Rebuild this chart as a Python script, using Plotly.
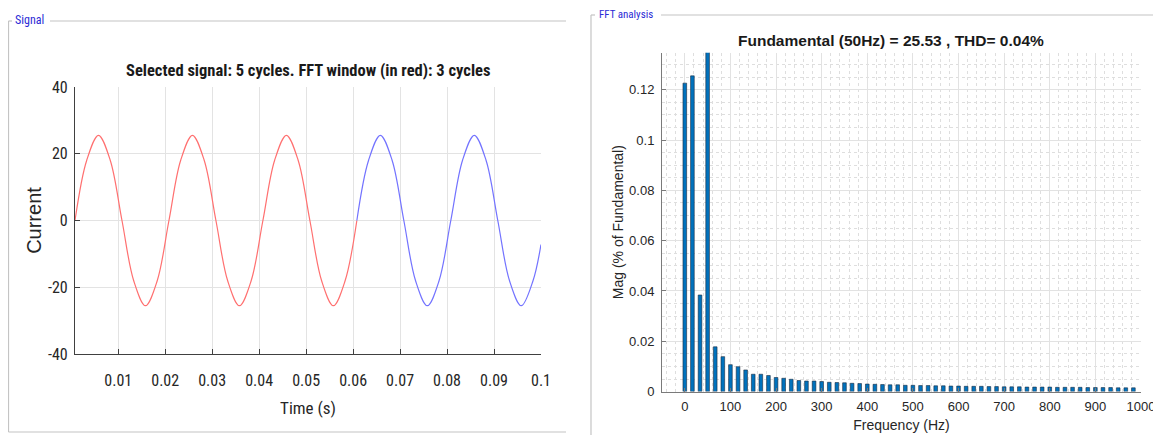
import plotly.graph_objects as go

# the page places the figure with an 8px body margin, so the figure is sized
# to fill the rest of the 1161x435 window
OFF = 8
W, H = 1161 - OFF, 435 - OFF

# ---------------- data ----------------
# Signal: current samples (8 samples per 50 Hz cycle)
time_s = [0.0008, 0.0033, 0.0058, 0.0083, 0.0108, 0.0133, 0.0158, 0.0183,
          0.0208, 0.0233, 0.0258, 0.0283, 0.0308, 0.0333, 0.0358, 0.0383,
          0.0408, 0.0433, 0.0458, 0.0483, 0.0508, 0.0533, 0.0558, 0.0583,
          0.0608, 0.0633, 0.0658, 0.0683, 0.0708, 0.0733, 0.0758, 0.0783,
          0.0808, 0.0833, 0.0858, 0.0883, 0.0908, 0.0933, 0.0958, 0.0983,
          0.1000]
current = [0.0, 18.05, 25.53, 18.05, 0.0, -18.05, -25.53, -18.05,
           0.0, 18.05, 25.53, 18.05, 0.0, -18.05, -25.53, -18.05,
           0.0, 18.05, 25.53, 18.05, 0.0, -18.05, -25.53, -18.05,
           0.0, 18.05, 25.53, 18.05, 0.0, -18.05, -25.53, -18.05,
           0.0, 18.05, 25.53, 18.05, 0.0, -18.05, -25.53, -18.05,
           -7.2]
fft_window_end_index = 24  # first 3 cycles (red)

# FFT: frequency bins (Hz) and magnitude (% of fundamental)
freq_hz = [0, 16.67, 33.33, 50, 66.67, 83.33, 100, 116.67, 133.33, 150,
           166.67, 183.33, 200, 216.67, 233.33, 250, 266.67, 283.33, 300, 316.67,
           333.33, 350, 366.67, 383.33, 400, 416.67, 433.33, 450, 466.67, 483.33,
           500, 516.67, 533.33, 550, 566.67, 583.33, 600, 616.67, 633.33, 650,
           666.67, 683.33, 700, 716.67, 733.33, 750, 766.67, 783.33, 800, 816.67,
           833.33, 850, 866.67, 883.33, 900, 916.67, 933.33, 950, 966.67, 983.33]
mag_pct = [0.1226, 0.1255, 0.0384, 100.0, 0.0178, 0.0139, 0.0107, 0.0099, 0.0086, 0.0069,
           0.0069, 0.0064, 0.0056, 0.0053, 0.0049, 0.0044, 0.0042, 0.0042, 0.0040, 0.0037,
           0.0036, 0.0035, 0.0033, 0.0032, 0.0030, 0.0029, 0.0028, 0.0027, 0.0027, 0.0025,
           0.0025, 0.0024, 0.0024, 0.0023, 0.0023, 0.0022, 0.0022, 0.0021, 0.0021, 0.0021,
           0.0020, 0.0020, 0.0019, 0.0019, 0.0019, 0.0018, 0.0018, 0.0018, 0.0018, 0.0017,
           0.0017, 0.0017, 0.0017, 0.0016, 0.0016, 0.0016, 0.0016, 0.0015, 0.0015, 0.0015]

sig_xticks = [0.01, 0.02, 0.03, 0.04, 0.05, 0.06, 0.07, 0.08, 0.09, 0.1]
sig_xticklabels = ["0.01", "0.02", "0.03", "0.04", "0.05", "0.06", "0.07", "0.08", "0.09", "0.1"]
sig_yticks = [-40, -20, 0, 20, 40]
sig_yticklabels = ["-40", "-20", "0", "20", "40"]

# ---------------- helpers (window pixel -> paper fraction) ----------------
def px(x):
    return (x - OFF) / W

def py(y):
    return 1 - (y - OFF) / H

NARROW = "Roboto Condensed, DejaVu Sans Condensed, sans-serif"
SANS = "Liberation Sans, Arial, Helvetica, sans-serif"
AX = "#404040"
TXT = "#262626"

fig = go.Figure()

fig.add_trace(go.Scatter(
    x=time_s[:fft_window_end_index + 1], y=current[:fft_window_end_index + 1],
    mode="lines", line=dict(color="#ff7070", width=1.2, shape="spline", smoothing=1.0),
    xaxis="x", yaxis="y", showlegend=False, hoverinfo="skip"))
fig.add_trace(go.Scatter(
    x=time_s[fft_window_end_index:], y=current[fft_window_end_index:],
    mode="lines", line=dict(color="#7373ff", width=1.2, shape="spline", smoothing=1.0),
    xaxis="x", yaxis="y", showlegend=False, hoverinfo="skip"))

fig.add_trace(go.Bar(
    x=freq_hz, y=mag_pct, width=8.0,
    marker=dict(color="#0072bd", line=dict(color="#1c2c40", width=0.6)),
    xaxis="x2", yaxis="y2", showlegend=False, hoverinfo="skip"))

fig.update_layout(
    width=W, height=H,
    margin=dict(l=0, r=0, t=0, b=0, pad=0, autoexpand=False),
    paper_bgcolor="white", plot_bgcolor="white",
    xaxis=dict(
        domain=[px(75), px(541)], anchor="y", automargin=False,
        range=[0.0008, 0.1], tickvals=sig_xticks, ticktext=sig_xticklabels,
        showgrid=True, gridcolor="#e3e3e3", gridwidth=1, zeroline=False,
        showline=True, linecolor=AX, linewidth=1.2,
        ticks="inside", ticklen=5, tickcolor=AX,
        tickfont=dict(family=NARROW, size=16, color=TXT),
        ticklabelstandoff=12,
        title=dict(text="Time (s)", font=dict(family=NARROW, size=17, color=TXT), standoff=12),
    ),
    yaxis=dict(
        domain=[py(354), py(87)], anchor="x", automargin=False,
        range=[-40, 40], tickvals=sig_yticks, ticktext=sig_yticklabels,
        showgrid=True, gridcolor="#e3e3e3", gridwidth=1, zeroline=False,
        showline=True, linecolor=AX, linewidth=1.2,
        ticks="inside", ticklen=5, tickcolor=AX,
        tickfont=dict(family=NARROW, size=16, color=TXT),
        ticklabelstandoff=3,
        title=dict(text="Current", font=dict(family=SANS, size=20, color=TXT), standoff=0),
    ),
    xaxis2=dict(
        domain=[px(662), px(1141)], anchor="y2", automargin=False,
        range=[-50, 1000], dtick=100, tick0=0,
        showgrid=True, gridcolor="#e2e2e2", gridwidth=1, zeroline=False,
        showline=True, linecolor="#7a7a7a", linewidth=1,
        ticks="inside", ticklen=4, tickcolor="#7a7a7a",
        minor=dict(dtick=20, tick0=0, showgrid=True, gridcolor="#dedede",
                   griddash="dot", gridwidth=1, ticks=""),
        tickfont=dict(family=SANS, size=13, color=TXT),
        ticklabelstandoff=3,
        title=dict(text="Frequency (Hz)", font=dict(family=SANS, size=14, color=TXT), standoff=6),
    ),
    yaxis2=dict(
        domain=[py(391.6), py(52.7)], anchor="x2", automargin=False,
        range=[0, 0.1347], dtick=0.02, tick0=0,
        showgrid=True, gridcolor="#e2e2e2", gridwidth=1, zeroline=False,
        showline=True, linecolor="#7a7a7a", linewidth=1,
        ticks="inside", ticklen=4, tickcolor="#7a7a7a",
        minor=dict(dtick=0.005, tick0=0, showgrid=True, gridcolor="#dedede",
                   griddash="dot", gridwidth=1, ticks=""),
        tickfont=dict(family=SANS, size=13, color=TXT),
        ticklabelstandoff=4,
        title=dict(text="Mag (% of Fundamental)", font=dict(family=SANS, size=14, color=TXT), standoff=2),
    ),
    showlegend=False,
)

shapes = []
FRAME = "#c4c4c4"
# Signal panel frame
for (x0, y0, x1, y1) in [(8.5, 21, 8.5, 432), (8.5, 21, 12, 21), (50, 21, 566, 21), (8.5, 432, 566, 432)]:
    shapes.append(dict(type="line", xref="paper", yref="paper", x0=px(x0), x1=px(x1), y0=py(y0), y1=py(y1),
                       line=dict(color=FRAME, width=1.2)))
# FFT panel frame
for (x0, y0, x1, y1) in [(591, 15, 591, 435), (591, 15, 595, 15), (661, 15, 1161, 15)]:
    shapes.append(dict(type="line", xref="paper", yref="paper", x0=px(x0), x1=px(x1), y0=py(y0), y1=py(y1),
                       line=dict(color=FRAME, width=1.2)))
fig.update_layout(shapes=shapes)

annotations = [
    dict(text="Signal", x=px(13), y=py(20), xref="paper", yref="paper", xanchor="left", yanchor="middle",
         showarrow=False, font=dict(family=NARROW, size=12, color="#2b2bd6")),
    dict(text="FFT analysis", x=px(597), y=py(14), xref="paper", yref="paper", xanchor="left", yanchor="middle",
         showarrow=False, font=dict(family=NARROW, size=11, color="#2b2bd6")),
    dict(text="<b>Selected signal: 5 cycles. FFT window (in red): 3 cycles</b>", x=px(308), y=py(71),
         xref="paper", yref="paper", xanchor="center", yanchor="middle", showarrow=False,
         font=dict(family=NARROW, size=16.5, color="#1a1a1a")),
    dict(text="<b>Fundamental (50Hz) = 25.53 , THD= 0.04%</b>", x=px(891), y=py(41),
         xref="paper", yref="paper", xanchor="center", yanchor="middle", showarrow=False,
         font=dict(family=SANS, size=15.5, color="#1a1a1a")),
]
fig.update_layout(annotations=annotations)

fig.write_html("out.html")
